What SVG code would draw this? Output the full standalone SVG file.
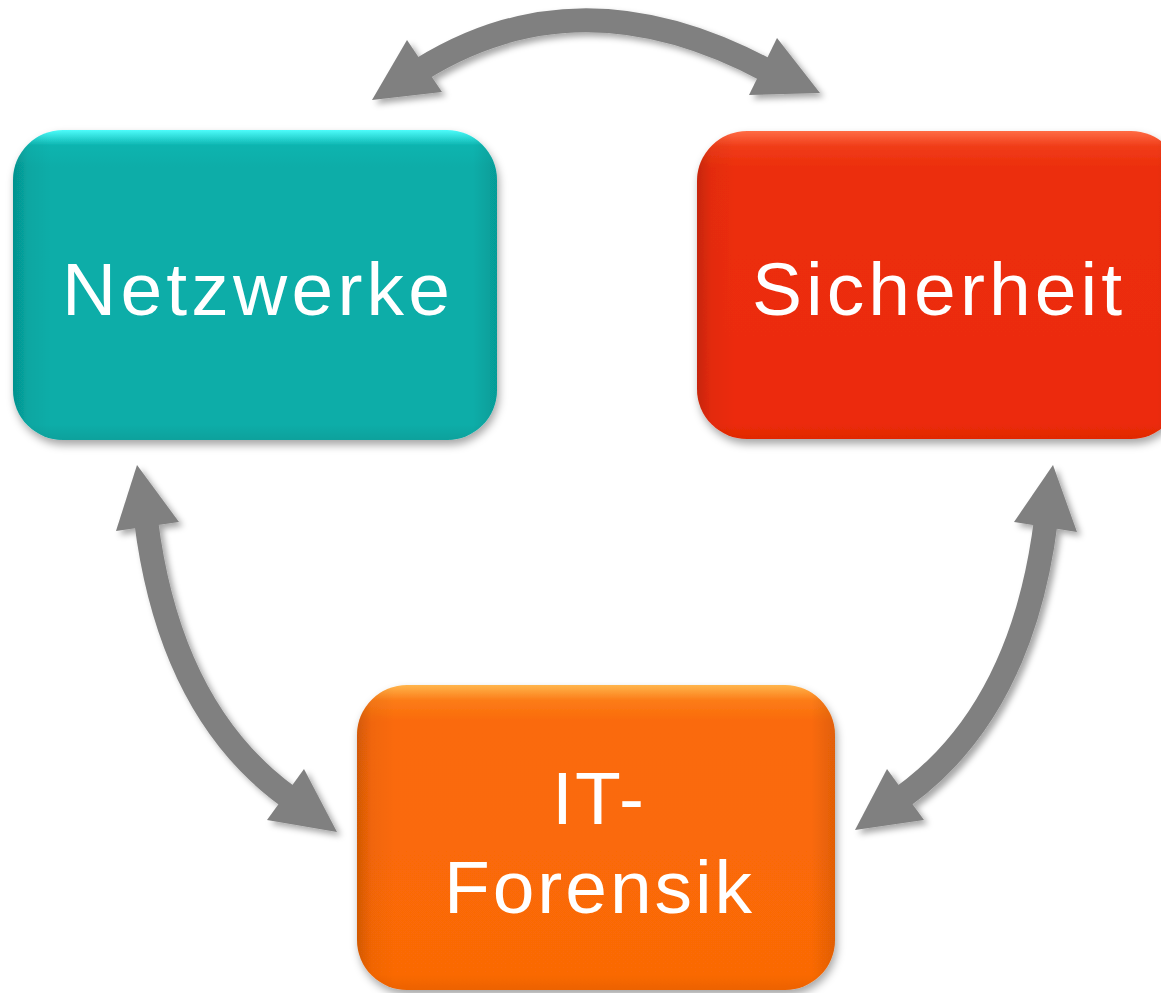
<svg xmlns="http://www.w3.org/2000/svg" width="1161" height="993" viewBox="0 0 1161 993">
<defs>
<filter id="boxShadow" x="-10%" y="-10%" width="125%" height="130%">
<feDropShadow dx="2" dy="5" stdDeviation="4" flood-color="#000" flood-opacity="0.35"/>
</filter>
<filter id="arrowShadow" x="-20%" y="-20%" width="140%" height="140%">
<feDropShadow dx="4" dy="4" stdDeviation="3" flood-color="#000" flood-opacity="0.35"/>
</filter>
<linearGradient id="tealV" x1="0" y1="0" x2="0" y2="1">
<stop offset="0" stop-color="#4DFCFB"/>
<stop offset="0.05" stop-color="#0AB4AF"/>
<stop offset="0.12" stop-color="#07ADA8"/>
<stop offset="0.95" stop-color="#07ADA8"/>
<stop offset="1" stop-color="#07A19C"/>
</linearGradient>
<linearGradient id="redV" x1="0" y1="0" x2="0" y2="1">
<stop offset="0" stop-color="#FF6C45"/>
<stop offset="0.05" stop-color="#F03C18"/>
<stop offset="0.12" stop-color="#EC2E0C"/>
<stop offset="0.95" stop-color="#EC2B08"/>
<stop offset="1" stop-color="#E02804"/>
</linearGradient>
<linearGradient id="orangeV" x1="0" y1="0" x2="0" y2="1">
<stop offset="0" stop-color="#FFB54C"/>
<stop offset="0.05" stop-color="#FC7C18"/>
<stop offset="0.12" stop-color="#FA6A08"/>
<stop offset="0.95" stop-color="#FA6906"/>
<stop offset="1" stop-color="#EC6204"/>
</linearGradient>
<linearGradient id="sideShade" x1="0" y1="0" x2="1" y2="0">
<stop offset="0" stop-color="#000" stop-opacity="0.16"/>
<stop offset="0.03" stop-color="#000" stop-opacity="0.04"/>
<stop offset="0.08" stop-color="#000" stop-opacity="0"/>
<stop offset="0.95" stop-color="#000" stop-opacity="0"/>
<stop offset="1" stop-color="#000" stop-opacity="0.1"/>
</linearGradient>
</defs>
<style>
.label{font-family:"Liberation Sans",Arial,sans-serif;font-size:75px;fill:#ffffff;text-anchor:middle}
.shaft{fill:none;stroke:#808080;stroke-width:24}
.head{fill:#808080}
</style>

<g id="connectors" filter="url(#arrowShadow)">
<g id="arrow-top">
<path class="shaft" d="M420,70 Q580,-30 768,71"/>
<polygon class="head" points="372,100 407,40 442,92"/>
<polygon class="head" points="820,93 777,38 749,95"/>
</g>
<g id="arrow-left">
<path class="shaft" d="M146,520 Q170,712 290,798"/>
<polygon class="head" points="137,465 116,531 179,522"/>
<polygon class="head" points="337,832 267,820 304,769"/>
</g>
<g id="arrow-right">
<path class="shaft" d="M1046,520 Q1022,712 901,798"/>
<polygon class="head" points="1053,465 1014,522 1077,532"/>
<polygon class="head" points="855,830 887,769 924,820"/>
</g>
</g>

<g id="node-netzwerke" filter="url(#boxShadow)">
<rect x="13" y="130" width="484" height="310" rx="50" fill="url(#tealV)"/>
<rect x="13" y="130" width="484" height="310" rx="50" fill="url(#sideShade)"/>
<text class="label" x="256" y="315" textLength="388" lengthAdjust="spacing">Netzwerke</text>
</g>

<g id="node-sicherheit" filter="url(#boxShadow)">
<rect x="697" y="131" width="484" height="308" rx="50" fill="url(#redV)"/>
<rect x="697" y="131" width="484" height="308" rx="50" fill="url(#sideShade)"/>
<text class="label" x="937" y="315" textLength="370" lengthAdjust="spacing">Sicherheit</text>
</g>

<g id="node-itforensik" filter="url(#boxShadow)">
<rect x="357" y="685" width="478" height="305" rx="50" fill="url(#orangeV)"/>
<rect x="357" y="685" width="478" height="305" rx="50" fill="url(#sideShade)"/>
<text class="label" x="598" y="824" textLength="92" lengthAdjust="spacing">IT-</text>
<text class="label" x="598" y="913" textLength="308" lengthAdjust="spacing">Forensik</text>
</g>
</svg>
